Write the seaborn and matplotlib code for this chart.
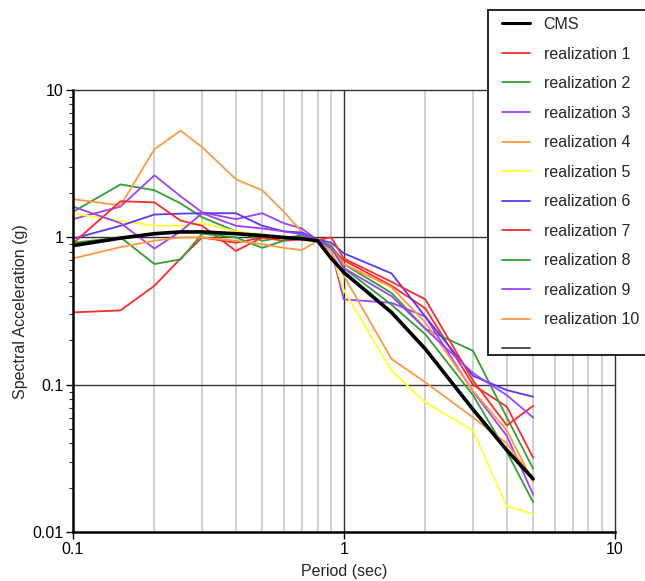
import numpy as np
import pandas as pd
import matplotlib
matplotlib.use("Agg")
import matplotlib.pyplot as plt
from matplotlib.lines import Line2D
from matplotlib.patches import Rectangle
from matplotlib.ticker import FixedLocator, FixedFormatter, LogLocator, NullFormatter
import seaborn as sns

# Periods (sec) at which spectra are given
periods = [0.1, 0.15, 0.2, 0.25, 0.3, 0.4, 0.5, 0.6, 0.7, 0.8, 0.9, 1.0, 1.5, 2.0, 3.0, 4.0, 5.0]

# Conditional mean spectrum (g)
cms = [0.88, 0.99, 1.06, 1.09, 1.09, 1.06, 1.03, 1.00, 0.98, 0.95, 0.72, 0.58, 0.31, 0.175, 0.068, 0.036, 0.023]

# Selected ground-motion realizations (g)
real_1 = [0.31, 0.32, 0.47, 0.72, 1.00, 0.92, 1.00, 1.00, 0.97, 0.96, 0.85, 0.70, 0.47, 0.33, 0.10, 0.071, 0.032]
real_2 = [1.49, 2.29, 2.09, 1.70, 1.37, 1.10, 0.95, 1.00, 1.02, 0.96, 0.88, 0.66, 0.42, 0.24, 0.17, 0.060, 0.027]
real_3 = [1.33, 1.62, 2.64, 1.90, 1.48, 1.33, 1.46, 1.25, 1.15, 0.96, 0.81, 0.38, 0.36, 0.29, 0.09, 0.045, 0.018]
real_4 = [1.82, 1.65, 3.97, 5.30, 4.10, 2.48, 2.09, 1.50, 1.09, 0.95, 0.85, 0.66, 0.46, 0.265, 0.091, 0.049, 0.022]
real_5 = [1.45, 1.30, 1.20, 1.20, 1.25, 1.10, 1.05, 1.00, 0.98, 0.95, 0.80, 0.44, 0.125, 0.076, 0.049, 0.015, 0.0133]
real_6 = [0.98, 1.20, 1.43, 1.45, 1.46, 1.46, 1.20, 1.10, 1.08, 0.97, 0.92, 0.78, 0.57, 0.29, 0.115, 0.092, 0.083]
real_7 = [0.91, 1.76, 1.73, 1.30, 1.20, 0.81, 1.00, 0.95, 0.97, 0.96, 1.00, 0.72, 0.50, 0.38, 0.107, 0.053, 0.072]
real_8 = [0.92, 1.00, 0.66, 0.71, 1.06, 1.00, 0.85, 0.95, 1.05, 0.96, 0.85, 0.62, 0.35, 0.22, 0.085, 0.035, 0.016]
real_9 = [1.62, 1.25, 0.84, 1.10, 1.46, 1.20, 1.15, 1.10, 1.05, 0.96, 0.85, 0.62, 0.40, 0.24, 0.12, 0.085, 0.060]
real_10 = [0.72, 0.86, 0.95, 1.00, 1.00, 0.95, 0.90, 0.85, 0.82, 0.95, 0.80, 0.55, 0.15, 0.104, 0.060, 0.040, 0.023]

realizations = [real_1, real_2, real_3, real_4, real_5, real_6, real_7, real_8, real_9, real_10]
names = [f"realization {i}" for i in range(1, 11)]
colors = ["#ff2a2a", "#30a030", "#a040ff", "#ff9a40", "#ffff30",
          "#5838ff", "#ff2a2a", "#30a030", "#a040ff", "#ff9a40"]

df = pd.DataFrame({
    "period": np.tile(periods, len(names)),
    "sa": np.concatenate(realizations),
    "series": np.repeat(names, len(periods)),
})
df_cms = pd.DataFrame({"period": periods, "sa": cms})

sns.set_style("white")
plt.rcParams["font.family"] = ["Liberation Sans", "DejaVu Sans"]

W, H = 645, 581
fig = plt.figure(figsize=(W / 100, H / 100), dpi=100)
ax = fig.add_axes([0.113, 0.084, 0.84, 0.761])

ax.set_xscale("log")
ax.set_yscale("log")
ax.set_xlim(0.1, 10)
ax.set_ylim(0.01, 10)

# Grid: grey minor verticals, dark major lines
minor_x = [m * d for d in (0.1, 1.0) for m in range(2, 10)]
for xv in minor_x:
    ax.axvline(xv, color="#c8c8c8", lw=1.2, zorder=0)
ax.axvline(1.0, color="#333333", lw=1.0, zorder=0.5)
for yv in (1.0, 0.1):
    ax.axhline(yv, color="#333333", lw=1.0, zorder=0.5)

sns.lineplot(data=df, x="period", y="sa", hue="series", palette=dict(zip(names, colors)),
             lw=1.3, ax=ax, legend=False, estimator=None, sort=False, zorder=2)
sns.lineplot(data=df_cms, x="period", y="sa", color="black", lw=2.6, ax=ax,
             legend=False, zorder=3)

ax.xaxis.set_major_locator(FixedLocator([0.1, 1, 10]))
ax.xaxis.set_major_formatter(FixedFormatter(["0.1", "1", "10"]))
ax.xaxis.set_minor_locator(FixedLocator([]))
ax.yaxis.set_major_locator(FixedLocator([0.01, 0.1, 1, 10]))
ax.yaxis.set_major_formatter(FixedFormatter(["0.01", "0.1", "1", "10"]))
ax.yaxis.set_minor_locator(LogLocator(base=10, subs=np.arange(2, 10)))
ax.yaxis.set_minor_formatter(NullFormatter())
ax.tick_params(axis="both", which="major", direction="out", length=5, width=1,
               labelsize=11.5, colors="black", left=True, bottom=True, pad=2)
ax.tick_params(axis="y", which="minor", direction="out", length=3, width=0.8, left=True)

for side in ("left", "bottom"):
    ax.spines[side].set_linewidth(1.8)
    ax.spines[side].set_color("black")
for side in ("top", "right"):
    ax.spines[side].set_linewidth(1.0)
    ax.spines[side].set_color("#333333")

ax.set_xlabel("Period (sec)", fontsize=11.5, labelpad=5)
ax.set_ylabel("Spectral Acceleration (g)", fontsize=11.5, labelpad=3)

# Legend box, open past the right edge of the figure
box = Rectangle((488 / W, 1 - 355 / H), 180 / W, 345 / H, transform=fig.transFigure,
                facecolor="white", edgecolor="black", lw=1.2, zorder=4)
fig.add_artist(box)

handles = [Line2D([], [], color="black", lw=2.2)]
handles += [Line2D([], [], color=c, lw=1.3) for c in colors]
handles += [Line2D([], [], color="#444444", lw=1.3)]
labels = ["CMS"] + names + [""]
leg = fig.legend(handles, labels, loc="upper left", bbox_to_anchor=(502 / W, 1 - 17 / H),
                 fontsize=11.5, frameon=False, borderpad=0, borderaxespad=0,
                 labelspacing=0.91, handlelength=1.75, handletextpad=0.85)
leg.set_zorder(6)

fig.savefig("out.png", dpi=100)
